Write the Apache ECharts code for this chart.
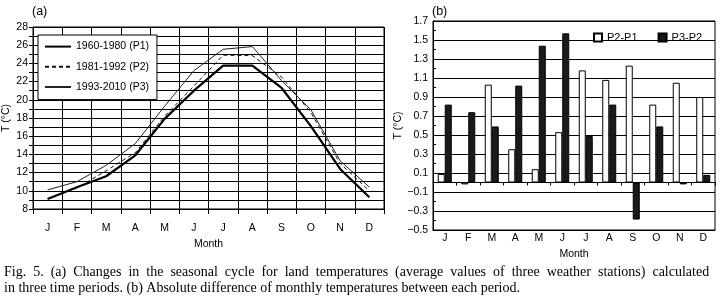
<!DOCTYPE html>
<html>
<head>
<meta charset="utf-8">
<script src="https://cdn.jsdelivr.net/npm/echarts@6/dist/echarts.min.js"></script>
<style>
html,body{margin:0;padding:0;background:#fff;}
#chart{width:723px;height:305px;}
</style>
</head>
<body>
<div id="chart"></div>
<script>
// ---- data ----
const months = ['J','F','M','A','M','J','J','A','S','O','N','D'];
const p1Name = '1960-1980 (P1)';
const p2Name = '1981-1992 (P2)';
const p3Name = '1993-2010 (P3)';
const p1 = [9.1, 10.4, 11.6, 13.9, 17.9, 21.0, 23.75, 23.75, 21.3, 17.1, 12.4, 9.3];
const p2 = [9.15, 10.3, 12.2, 14.2, 18.2, 21.5, 24.9, 24.85, 22.5, 18.6, 13.0, 10.0];
const p3 = [10.1, 11.0, 12.8, 15.2, 19.3, 23.2, 25.55, 25.85, 22.1, 18.9, 13.3, 10.4];
const d21Name = 'P2-P1';
const d32Name = 'P3-P2';
const d21 = [0.09, -0.02, 1.03, 0.35, 0.14, 0.53, 1.18, 1.08, 1.23, 0.82, 1.05, 0.90];
const d32 = [0.82, 0.74, 0.59, 1.02, 1.44, 1.57, 0.49, 0.82, -0.39, 0.59, -0.02, 0.08];
const tempTickLabels = [8, 10, 12, 14, 16, 18, 20, 22, 24, 26, 28];
const diffTickLabels = ['−0.5', '−0.3', '−0.1', '0.1', '0.3', '0.5', '0.7', '0.9', '1.1', '1.3', '1.5', '1.7'];
const caption1 = 'Fig. 5. (a) Changes in the seasonal cycle for land temperatures (average values of three weather stations) calculated';
const caption2 = 'in three time periods. (b) Absolute difference of monthly temperatures between each period.';

const FONT = '"Liberation Sans", Arial, sans-serif';
const SERIF = '"Liberation Serif", "Times New Roman", serif';
const txt = {color: '#000', fontFamily: FONT, fontSize: 10.5};

function diffLabel(v) {
  const s = (Math.round(v * 10) / 10).toFixed(1).replace('-', '−');
  return diffTickLabels.includes(s) ? s : '';
}
// first caption line is justified to the full width in the reference
const caption1Justified = caption1.split(' ').join('  ');

const chart = echarts.init(document.getElementById('chart'), null, {renderer: 'canvas'});
chart.setOption({
  animation: false,
  backgroundColor: '#fff',
  textStyle: {fontFamily: FONT, color: '#000'},
  grid: [
    {left: 33, top: 27, width: 351, height: 182, show: true, borderColor: '#000', borderWidth: 1, backgroundColor: 'transparent'},
    {left: 433, top: 21, width: 282, height: 209, show: true, borderColor: '#000', borderWidth: 1, backgroundColor: 'transparent'}
  ],
  legend: [
    {
      data: [p1Name, p2Name, p3Name],
      orient: 'vertical', left: 38, top: 35,
      padding: [6, 8, 7, 6], itemWidth: 26, itemHeight: 14, itemGap: 9,
      backgroundColor: '#fff', borderColor: '#000', borderWidth: 1,
      itemStyle: {opacity: 0},
      textStyle: Object.assign({}, txt, {fontSize: 10.5}), selectedMode: false
    },
    {
      data: [d21Name, d32Name],
      orient: 'horizontal', left: 588, top: 27,
      itemWidth: 8, itemHeight: 8, itemGap: 20, icon: 'rect',
      textStyle: Object.assign({}, txt, {fontSize: 11}), selectedMode: false
    }
  ],
  xAxis: [
    {
      gridIndex: 0, type: 'category', data: months, boundaryGap: true,
      name: 'Month', nameLocation: 'middle', nameGap: 26, nameTextStyle: txt,
      axisLine: {lineStyle: {color: '#000', width: 1}},
      axisTick: {show: true, length: 5, lineStyle: {color: '#000'}},
      axisLabel: Object.assign({margin: 14}, txt),
      splitLine: {show: true, lineStyle: {color: '#000', width: 1}}
    },
    {
      gridIndex: 1, type: 'category', data: months, boundaryGap: true, position: 'bottom',
      name: 'Month', nameLocation: 'middle', nameGap: 14, nameTextStyle: txt,
      axisLine: {onZero: false, lineStyle: {color: '#000', width: 1}},
      axisTick: {show: false},
      axisLabel: Object.assign({margin: 3}, txt),
      splitLine: {show: false}
    },
    {
      gridIndex: 1, type: 'category', data: months, boundaryGap: true, position: 'bottom',
      axisLine: {onZero: true, lineStyle: {color: '#000', width: 1}},
      axisTick: {show: true, length: 3, lineStyle: {color: '#000'}},
      axisLabel: {show: false},
      splitLine: {show: false}
    }
  ],
  yAxis: [
    {
      gridIndex: 0, type: 'value', min: 8, max: 28, interval: 1,
      name: 'T (°C)', nameLocation: 'middle', nameGap: 21, nameTextStyle: txt, nameRotate: 90,
      axisLine: {show: true, lineStyle: {color: '#000'}},
      axisTick: {show: true, length: 4, lineStyle: {color: '#000'}},
      axisLabel: Object.assign({margin: 5, formatter: v => tempTickLabels.includes(Math.round(v)) ? String(Math.round(v)) : ''}, txt),
      splitLine: {show: true, lineStyle: {color: '#000', width: 1}}
    },
    {
      gridIndex: 1, type: 'value', min: -0.5, max: 1.7, interval: 0.1,
      name: 'T (°C)', nameLocation: 'middle', nameGap: 27, nameTextStyle: txt, nameRotate: 90,
      axisLine: {show: true, lineStyle: {color: '#000'}},
      axisTick: {show: true, inside: true, length: 3, lineStyle: {color: '#000'}},
      axisLabel: Object.assign({margin: 5, formatter: diffLabel}, txt),
      splitLine: {show: true, lineStyle: {color: ['#000', 'rgba(0,0,0,0)'], width: 1}}
    }
  ],
  series: [
    {name: p1Name, type: 'line', xAxisIndex: 0, yAxisIndex: 0, data: p1, symbol: 'none',
     lineStyle: {color: '#000', width: 2.2}, itemStyle: {color: '#000'}},
    {name: p2Name, type: 'line', xAxisIndex: 0, yAxisIndex: 0, data: p2, symbol: 'none',
     lineStyle: {color: '#111', width: 1, type: [4, 3]}, itemStyle: {color: '#111'}},
    {name: p3Name, type: 'line', xAxisIndex: 0, yAxisIndex: 0, data: p3, symbol: 'none',
     lineStyle: {color: '#222', width: 1}, itemStyle: {color: '#222'}},
    {name: d21Name, type: 'bar', xAxisIndex: 1, yAxisIndex: 1, data: d21, barWidth: 7, barGap: '0%',
     itemStyle: {color: '#fff', borderColor: '#000', borderWidth: 1}},
    {name: d32Name, type: 'bar', xAxisIndex: 1, yAxisIndex: 1, data: d32, barWidth: 7, barGap: '0%',
     itemStyle: {color: '#1a1a1a', borderColor: '#000', borderWidth: 1}}
  ],
  graphic: [
    {type: 'text', left: 32, top: 5, style: {text: '(a)', font: '12.5px ' + FONT, fill: '#000'}},
    {type: 'text', left: 432, top: 5, style: {text: '(b)', font: '12.5px ' + FONT, fill: '#000'}},
    {type: 'text', left: 4, top: 265, style: {text: caption1Justified, font: '14px ' + SERIF, fill: '#000'}},
    {type: 'text', left: 4, top: 281, style: {text: caption2, font: '14px ' + SERIF, fill: '#000'}}
  ]
});
</script>
</body>
</html>
